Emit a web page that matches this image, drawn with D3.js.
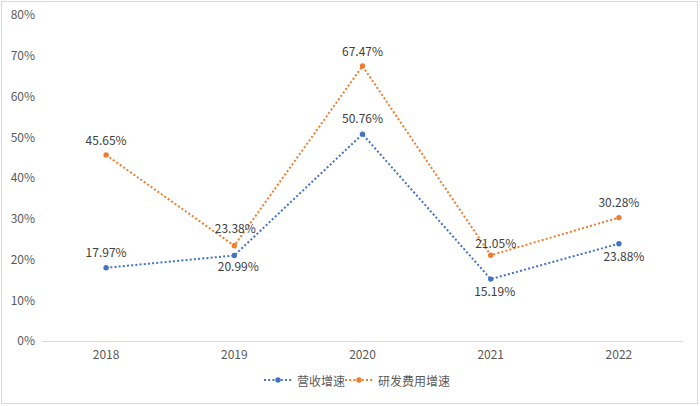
<!DOCTYPE html>
<html><head><meta charset="utf-8">
<script src="https://cdn.jsdelivr.net/npm/d3@7"></script>
<style>html,body{margin:0;padding:0;background:#fff;}svg{display:block;}</style>
</head><body>
<svg id="c" width="700" height="406"></svg>
<script>
const years = ["2018","2019","2020","2021","2022"];
const revenueGrowth = [17.97, 20.99, 50.76, 15.19, 23.88];
const rdGrowth = [45.65, 23.38, 67.47, 21.05, 30.28];
const yTicks = [0,10,20,30,40,50,60,70,80];
const seriesNames = ["营收增速","研发费用增速"];
// label placement: dx, dy relative to point (style only)
const revLabelPos = [[0,-16],[4,10],[0,-17],[4,11],[5,12]];
const rdLabelPos = [[0,-15],[1,-18],[0,-16],[5,-13],[0,-16]];

const svg = d3.select("#c");
const font = "'Microsoft YaHei','Noto Sans CJK SC','Noto Sans',sans-serif";
const textColor = "#595959";
svg.append("rect").attr("x",1.5).attr("y",1.5).attr("width",696).attr("height",402)
  .attr("fill","#fff").attr("stroke","#d9d9d9").attr("stroke-width",1);

const x = d3.scaleBand().domain(years).range([42,683]);
const y = d3.scaleLinear().domain([0,80]).range([341,15]);

// baseline
svg.append("line").attr("x1",42).attr("x2",683).attr("y1",y(0)+0.5).attr("y2",y(0)+0.5)
  .attr("stroke","#d9d9d9").attr("stroke-width",1);

// y axis labels
const yAxis = d3.axisLeft(y).tickValues(yTicks).tickFormat(d=>d+"%").tickSize(0).tickPadding(0);
const ya = svg.append("g").attr("transform","translate(35,0)").call(yAxis);
ya.select(".domain").remove();
ya.selectAll("text").attr("fill",textColor).style("font-family",font).style("font-size","12px");

const xAxis = d3.axisBottom(x).tickSize(0).tickPadding(9);
const xa = svg.append("g").attr("transform",`translate(0,${y(0)})`).call(xAxis);
xa.select(".domain").remove();
xa.selectAll("text").attr("fill",textColor).style("font-family",font).style("font-size","12px");

const cx = d => x(d) + x.bandwidth()/2;
function drawSeries(vals, color, pos){
  const line = d3.line().x((d,i)=>cx(years[i])).y(d=>y(d));
  svg.append("path").datum(vals).attr("d",line).attr("fill","none")
    .attr("stroke",color).attr("stroke-width",2).attr("stroke-dasharray","2,2.2");
  svg.selectAll(null).data(vals).enter().append("circle")
    .attr("cx",(d,i)=>cx(years[i])).attr("cy",d=>y(d)).attr("r",2.7).attr("fill",color);
  svg.selectAll(null).data(vals).enter().append("text")
    .attr("x",(d,i)=>cx(years[i])+pos[i][0]).attr("y",(d,i)=>y(d)+pos[i][1])
    .attr("text-anchor","middle").attr("dominant-baseline","central")
    .attr("fill","#404040").style("font-family",font).style("font-size","12px")
    .text(d=>d.toFixed(2)+"%");
}
drawSeries(rdGrowth, "#ED7D31", rdLabelPos);
drawSeries(revenueGrowth, "#4472C4", revLabelPos);

// legend
const legend = [{name:seriesNames[0],color:"#4472C4",x:264},{name:seriesNames[1],color:"#ED7D31",x:345}];
legend.forEach(l=>{
  const g = svg.append("g").attr("transform",`translate(${l.x},380)`);
  g.append("line").attr("x1",0).attr("x2",28).attr("stroke",l.color).attr("stroke-width",2).attr("stroke-dasharray","2,2.2");
  g.append("circle").attr("cx",14).attr("cy",0).attr("r",2.7).attr("fill",l.color);
  g.append("text").attr("x",33).attr("y",0).attr("dominant-baseline","central")
    .attr("fill",textColor).style("font-family",font).style("font-size","12px").text(l.name);
});
</script>
</body></html>
